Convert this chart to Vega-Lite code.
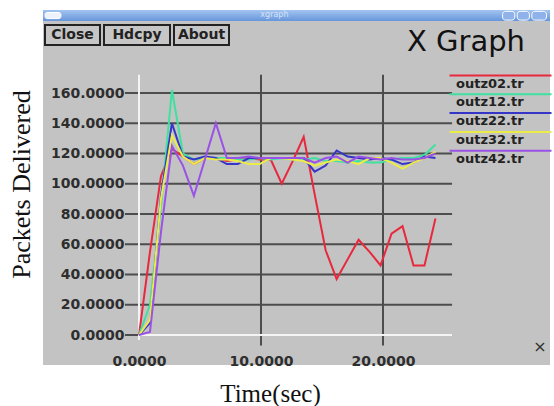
{
  "$schema": "https://vega.github.io/schema/vega-lite/v6.json",
  "width": 507,
  "height": 355,
  "autosize": {"type": "none"},
  "padding": {"left": 43, "top": 10, "right": 4, "bottom": 41},
  "background": "white",
  "view": {"fill": "#c3c3c3", "stroke": null},
  "config": {"font": "DejaVu Sans"},
  "datasets": {
    "series": [
      {"s":"outz02.tr","t":0,"v":0},{"s":"outz02.tr","t":0.9,"v":55},{"s":"outz02.tr","t":1.8,"v":105},{"s":"outz02.tr","t":2.7,"v":123},{"s":"outz02.tr","t":3.6,"v":118},{"s":"outz02.tr","t":4.5,"v":113},{"s":"outz02.tr","t":5.4,"v":117},{"s":"outz02.tr","t":6.3,"v":117},{"s":"outz02.tr","t":7.2,"v":115},{"s":"outz02.tr","t":8.1,"v":116},{"s":"outz02.tr","t":9,"v":117},{"s":"outz02.tr","t":9.9,"v":116},{"s":"outz02.tr","t":10.8,"v":116},{"s":"outz02.tr","t":11.7,"v":100},{"s":"outz02.tr","t":12.6,"v":115},{"s":"outz02.tr","t":13.5,"v":131},{"s":"outz02.tr","t":14.4,"v":93},{"s":"outz02.tr","t":15.3,"v":56},{"s":"outz02.tr","t":16.2,"v":37},{"s":"outz02.tr","t":17.1,"v":50},{"s":"outz02.tr","t":18,"v":63},{"s":"outz02.tr","t":18.9,"v":55},{"s":"outz02.tr","t":19.8,"v":46},{"s":"outz02.tr","t":20.7,"v":67},{"s":"outz02.tr","t":21.6,"v":72},{"s":"outz02.tr","t":22.5,"v":46},{"s":"outz02.tr","t":23.4,"v":46},{"s":"outz02.tr","t":24.3,"v":77},
      {"s":"outz12.tr","t":0,"v":0},{"s":"outz12.tr","t":0.9,"v":20},{"s":"outz12.tr","t":1.8,"v":85},{"s":"outz12.tr","t":2.7,"v":162},{"s":"outz12.tr","t":3.6,"v":120},{"s":"outz12.tr","t":4.5,"v":116},{"s":"outz12.tr","t":5.4,"v":117},{"s":"outz12.tr","t":6.3,"v":117},{"s":"outz12.tr","t":7.2,"v":117},{"s":"outz12.tr","t":8.1,"v":116},{"s":"outz12.tr","t":9,"v":116},{"s":"outz12.tr","t":9.9,"v":117},{"s":"outz12.tr","t":10.8,"v":116},{"s":"outz12.tr","t":11.7,"v":117},{"s":"outz12.tr","t":12.6,"v":116},{"s":"outz12.tr","t":13.5,"v":116},{"s":"outz12.tr","t":14.4,"v":117},{"s":"outz12.tr","t":15.3,"v":115},{"s":"outz12.tr","t":16.2,"v":115},{"s":"outz12.tr","t":17.1,"v":114},{"s":"outz12.tr","t":18,"v":115},{"s":"outz12.tr","t":18.9,"v":114},{"s":"outz12.tr","t":19.8,"v":114},{"s":"outz12.tr","t":20.7,"v":116},{"s":"outz12.tr","t":21.6,"v":117},{"s":"outz12.tr","t":22.5,"v":117},{"s":"outz12.tr","t":23.4,"v":119},{"s":"outz12.tr","t":24.3,"v":126},
      {"s":"outz22.tr","t":0,"v":0},{"s":"outz22.tr","t":0.9,"v":8},{"s":"outz22.tr","t":1.8,"v":92},{"s":"outz22.tr","t":2.7,"v":140},{"s":"outz22.tr","t":3.6,"v":118},{"s":"outz22.tr","t":4.5,"v":116},{"s":"outz22.tr","t":5.4,"v":118},{"s":"outz22.tr","t":6.3,"v":117},{"s":"outz22.tr","t":7.2,"v":113},{"s":"outz22.tr","t":8.1,"v":113},{"s":"outz22.tr","t":9,"v":117},{"s":"outz22.tr","t":9.9,"v":117},{"s":"outz22.tr","t":10.8,"v":117},{"s":"outz22.tr","t":11.7,"v":117},{"s":"outz22.tr","t":12.6,"v":117},{"s":"outz22.tr","t":13.5,"v":117},{"s":"outz22.tr","t":14.4,"v":108},{"s":"outz22.tr","t":15.3,"v":112},{"s":"outz22.tr","t":16.2,"v":122},{"s":"outz22.tr","t":17.1,"v":118},{"s":"outz22.tr","t":18,"v":117},{"s":"outz22.tr","t":18.9,"v":116},{"s":"outz22.tr","t":19.8,"v":117},{"s":"outz22.tr","t":20.7,"v":116},{"s":"outz22.tr","t":21.6,"v":113},{"s":"outz22.tr","t":22.5,"v":114},{"s":"outz22.tr","t":23.4,"v":118},{"s":"outz22.tr","t":24.3,"v":117},
      {"s":"outz32.tr","t":0,"v":0},{"s":"outz32.tr","t":0.9,"v":10},{"s":"outz32.tr","t":1.8,"v":90},{"s":"outz32.tr","t":2.7,"v":132},{"s":"outz32.tr","t":3.6,"v":118},{"s":"outz32.tr","t":4.5,"v":113},{"s":"outz32.tr","t":5.4,"v":117},{"s":"outz32.tr","t":6.3,"v":116},{"s":"outz32.tr","t":7.2,"v":116},{"s":"outz32.tr","t":8.1,"v":115},{"s":"outz32.tr","t":9,"v":113},{"s":"outz32.tr","t":9.9,"v":113},{"s":"outz32.tr","t":10.8,"v":117},{"s":"outz32.tr","t":11.7,"v":117},{"s":"outz32.tr","t":12.6,"v":116},{"s":"outz32.tr","t":13.5,"v":115},{"s":"outz32.tr","t":14.4,"v":112},{"s":"outz32.tr","t":15.3,"v":114},{"s":"outz32.tr","t":16.2,"v":116},{"s":"outz32.tr","t":17.1,"v":115},{"s":"outz32.tr","t":18,"v":113},{"s":"outz32.tr","t":18.9,"v":117},{"s":"outz32.tr","t":19.8,"v":117},{"s":"outz32.tr","t":20.7,"v":114},{"s":"outz32.tr","t":21.6,"v":110},{"s":"outz32.tr","t":22.5,"v":114},{"s":"outz32.tr","t":23.4,"v":117},{"s":"outz32.tr","t":24.3,"v":121},
      {"s":"outz42.tr","t":0,"v":0},{"s":"outz42.tr","t":0.9,"v":2},{"s":"outz42.tr","t":1.8,"v":68},{"s":"outz42.tr","t":2.7,"v":125},{"s":"outz42.tr","t":3.6,"v":112},{"s":"outz42.tr","t":4.5,"v":92},{"s":"outz42.tr","t":5.4,"v":116},{"s":"outz42.tr","t":6.3,"v":140},{"s":"outz42.tr","t":7.2,"v":117},{"s":"outz42.tr","t":8.1,"v":117},{"s":"outz42.tr","t":9,"v":118},{"s":"outz42.tr","t":9.9,"v":117},{"s":"outz42.tr","t":10.8,"v":117},{"s":"outz42.tr","t":11.7,"v":117},{"s":"outz42.tr","t":12.6,"v":117},{"s":"outz42.tr","t":13.5,"v":117},{"s":"outz42.tr","t":14.4,"v":114},{"s":"outz42.tr","t":15.3,"v":117},{"s":"outz42.tr","t":16.2,"v":118},{"s":"outz42.tr","t":17.1,"v":114},{"s":"outz42.tr","t":18,"v":118},{"s":"outz42.tr","t":18.9,"v":117},{"s":"outz42.tr","t":19.8,"v":116},{"s":"outz42.tr","t":20.7,"v":117},{"s":"outz42.tr","t":21.6,"v":116},{"s":"outz42.tr","t":22.5,"v":116},{"s":"outz42.tr","t":23.4,"v":117},{"s":"outz42.tr","t":24.3,"v":120}
    ],
    "hgrid": [{"v":0},{"v":20},{"v":40},{"v":60},{"v":80},{"v":100},{"v":120},{"v":140},{"v":160}],
    "vgrid": [{"t":10},{"t":20}]
  },
  "layer": [
    {
      "data": {"values": [{"label": "xgraph"}]},
      "layer": [
        {"mark": {"type": "rect", "color": {"gradient": "linear", "x1": 0, "y1": 0, "x2": 0, "y2": 1, "stops": [{"offset": 0, "color": "#a3c4f0"}, {"offset": 1, "color": "#6796dc"}]}},
         "encoding": {"x": {"datum": -7.869, "type": "quantitative"}, "x2": {"datum": 33.689}, "y": {"datum": 214.88, "type": "quantitative"}, "y2": {"datum": 207.6}}},
        {"mark": {"type": "text", "font": "DejaVu Sans", "fontSize": 8, "color": "#d4e2f8", "align": "center", "baseline": "middle"},
         "encoding": {"x": {"datum": 11.1, "type": "quantitative"}, "y": {"datum": 211.3, "type": "quantitative"}, "text": {"field": "label"}}},
        {"mark": {"type": "rect", "fill": "#eef3fb", "stroke": "#ffffff", "strokeWidth": 1, "cornerRadius": 2},
         "encoding": {"x": {"datum": -7.7, "type": "quantitative"}, "x2": {"datum": -6.4}, "y": {"datum": 213.2, "type": "quantitative"}, "y2": {"datum": 209.2}}},
        {"mark": {"type": "rect", "fill": "#8fb2ea", "stroke": "#ffffff", "strokeWidth": 1, "cornerRadius": 3},
         "encoding": {"x": {"datum": 29.8, "type": "quantitative"}, "x2": {"datum": 30.8}, "y": {"datum": 214.0, "type": "quantitative"}, "y2": {"datum": 208.2}}},
        {"mark": {"type": "rect", "fill": "#8fb2ea", "stroke": "#ffffff", "strokeWidth": 1, "cornerRadius": 3},
         "encoding": {"x": {"datum": 31.0, "type": "quantitative"}, "x2": {"datum": 32.0}, "y": {"datum": 214.0, "type": "quantitative"}, "y2": {"datum": 208.2}}},
        {"mark": {"type": "rect", "fill": "#8fb2ea", "stroke": "#ffffff", "strokeWidth": 1, "cornerRadius": 3},
         "encoding": {"x": {"datum": 32.2, "type": "quantitative"}, "x2": {"datum": 33.4}, "y": {"datum": 214.0, "type": "quantitative"}, "y2": {"datum": 208.2}}}
      ]
    },
    {
      "data": {"values": [{"label": "Close"}]},
      "layer": [
        {"mark": {"type": "rect", "fill": "#c6c6c6", "stroke": "#222222", "strokeWidth": 2},
         "encoding": {"x": {"datum": -7.705, "type": "quantitative"}, "x2": {"datum": -3.197}, "y": {"datum": 204.96, "type": "quantitative"}, "y2": {"datum": 191.74}}},
        {"mark": {"type": "text", "font": "DejaVu Sans", "fontWeight": "bold", "fontSize": 14, "color": "#222222", "align": "center", "baseline": "middle"},
         "encoding": {"x": {"datum": -5.451, "type": "quantitative"}, "y": {"datum": 198.35, "type": "quantitative"}, "text": {"field": "label"}}}
      ]
    },
    {
      "data": {"values": [{"label": "Hdcpy"}]},
      "layer": [
        {"mark": {"type": "rect", "fill": "#c6c6c6", "stroke": "#222222", "strokeWidth": 2},
         "encoding": {"x": {"datum": -2.869, "type": "quantitative"}, "x2": {"datum": 2.541}, "y": {"datum": 204.96, "type": "quantitative"}, "y2": {"datum": 191.74}}},
        {"mark": {"type": "text", "font": "DejaVu Sans", "fontWeight": "bold", "fontSize": 14, "color": "#222222", "align": "center", "baseline": "middle"},
         "encoding": {"x": {"datum": -0.164, "type": "quantitative"}, "y": {"datum": 198.35, "type": "quantitative"}, "text": {"field": "label"}}}
      ]
    },
    {
      "data": {"values": [{"label": "About"}]},
      "layer": [
        {"mark": {"type": "rect", "fill": "#c6c6c6", "stroke": "#222222", "strokeWidth": 2},
         "encoding": {"x": {"datum": 2.869, "type": "quantitative"}, "x2": {"datum": 7.377}, "y": {"datum": 204.96, "type": "quantitative"}, "y2": {"datum": 191.74}}},
        {"mark": {"type": "text", "font": "DejaVu Sans", "fontWeight": "bold", "fontSize": 14, "color": "#222222", "align": "center", "baseline": "middle"},
         "encoding": {"x": {"datum": 5.123, "type": "quantitative"}, "y": {"datum": 198.35, "type": "quantitative"}, "text": {"field": "label"}}}
      ]
    },
    {
      "data": {"values": [{"label": "X Graph"}]},
      "mark": {"type": "text", "font": "DejaVu Sans", "fontSize": 29, "color": "#111111", "align": "right", "baseline": "middle"},
      "encoding": {"x": {"datum": 31.64, "type": "quantitative"}, "y": {"datum": 193.72, "type": "quantitative"}, "text": {"field": "label"}}
    },
    {
      "data": {"values": [{"label": "×"}]},
      "mark": {"type": "text", "font": "DejaVu Sans", "fontSize": 16, "color": "#333333", "align": "center", "baseline": "middle"},
      "encoding": {"x": {"datum": 32.87, "type": "quantitative"}, "y": {"datum": -7.93, "type": "quantitative"}, "text": {"field": "label"}}
    },
    {
      "data": {"name": "hgrid"},
      "mark": {"type": "rule", "color": "#4d4d4d", "strokeWidth": 2},
      "encoding": {
        "y": {"field": "v", "type": "quantitative"},
        "x": {"datum": -1.15, "type": "quantitative"},
        "x2": {"datum": 25.66}
      }
    },
    {
      "data": {"name": "vgrid"},
      "mark": {"type": "rule", "color": "#4d4d4d", "strokeWidth": 2},
      "encoding": {
        "x": {"field": "t", "type": "quantitative"},
        "y": {"datum": 172, "type": "quantitative"},
        "y2": {"datum": -7}
      }
    },
    {
      "data": {"values": [{"v": 0}]},
      "mark": {"type": "rule", "color": "#f4f4f4", "strokeWidth": 2},
      "encoding": {
        "y": {"field": "v", "type": "quantitative"},
        "x": {"datum": 0, "type": "quantitative"},
        "x2": {"datum": 25.66}
      }
    },
    {
      "data": {"values": [{"t": 0}]},
      "mark": {"type": "rule", "color": "#f4f4f4", "strokeWidth": 2},
      "encoding": {
        "x": {"field": "t", "type": "quantitative"},
        "y": {"datum": 172, "type": "quantitative"},
        "y2": {"datum": -3.3}
      }
    },
    {
      "data": {"name": "series"},
      "mark": {"type": "line", "strokeWidth": 2},
      "encoding": {
        "x": {
          "field": "t", "type": "quantitative",
          "scale": {"domain": [-7.869, 33.689], "nice": false, "zero": false},
          "axis": {
            "values": [0, 10, 20], "format": ".4f", "offset": -30,
            "domain": false, "grid": false, "ticks": false, "tickSize": 0,
            "labelPadding": 26, "labelBaseline": "middle",
            "labelFont": "DejaVu Sans", "labelFontWeight": "bold", "labelFontSize": 14, "labelColor": "#2e2e2e",
            "title": "Time(sec)", "titleFont": "Liberation Serif", "titleFontSize": 25, "titleFontWeight": "normal", "titleColor": "#111111",
            "titleX": 227, "titleY": 58, "titleAlign": "center", "titleBaseline": "middle"
          }
        },
        "y": {
          "field": "v", "type": "quantitative",
          "scale": {"domain": [-19.83, 214.88], "nice": false, "zero": false},
          "axis": {
            "values": [0, 20, 40, 60, 80, 100, 120, 140, 160], "format": ".4f", "offset": -96,
            "domain": false, "grid": false, "ticks": false, "tickSize": 0,
            "labelPadding": 15, "labelFont": "DejaVu Sans", "labelFontWeight": "bold", "labelFontSize": 14, "labelColor": "#2e2e2e",
            "title": "Packets Delivered", "titleFont": "Liberation Serif", "titleFontSize": 26, "titleFontWeight": "normal", "titleColor": "#111111",
            "titleX": -110, "titleY": 174, "titleAngle": 270, "titleAlign": "center", "titleBaseline": "alphabetic"
          }
        },
        "color": {
          "field": "s", "type": "nominal",
          "scale": {"domain": ["outz02.tr", "outz12.tr", "outz22.tr", "outz32.tr", "outz42.tr"], "range": ["#e8283c", "#3fe0a0", "#3535c8", "#ecec48", "#9a52e6"]},
          "legend": {
            "orient": "none", "legendX": 405, "legendY": 67, "title": null, "padding": 0,
            "symbolType": "M-1,-1.6H19.4", "symbolSize": 100, "symbolStrokeWidth": 2,
            "labelFont": "DejaVu Sans", "labelFontWeight": "bold", "labelFontSize": 13, "labelColor": "#222222",
            "labelOffset": -5, "rowPadding": -1.2, "labelLimit": 200
          }
        }
      }
    }
  ]
}
